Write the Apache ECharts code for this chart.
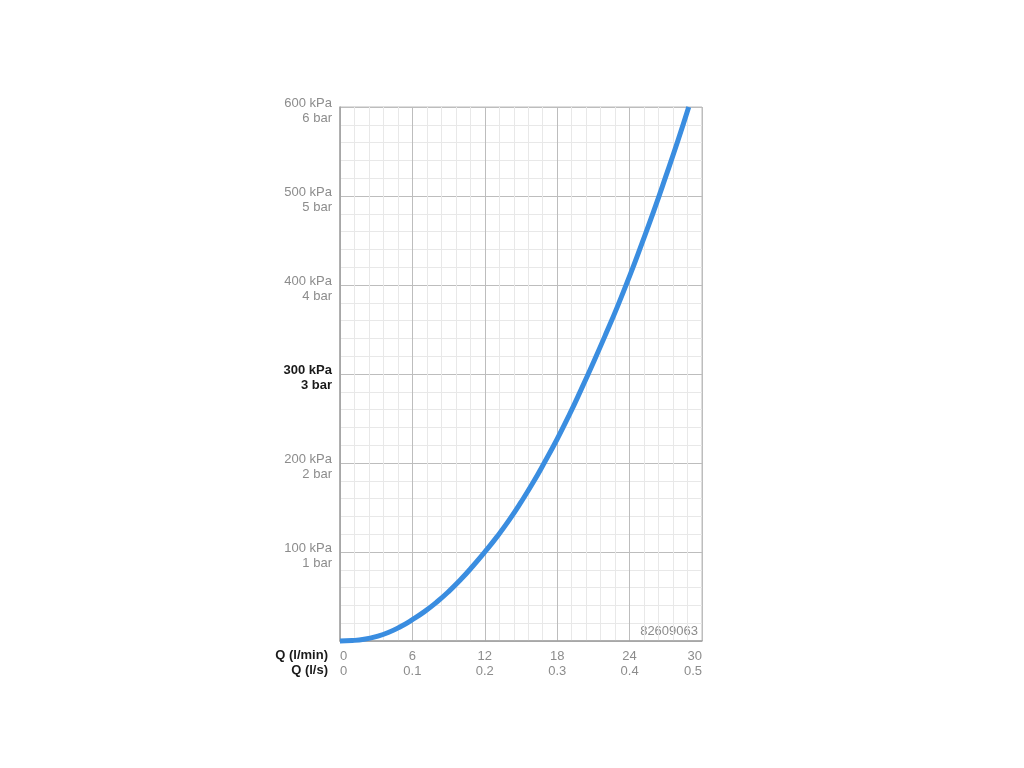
<!DOCTYPE html>
<html>
<head>
<meta charset="utf-8">
<script src="https://cdn.jsdelivr.net/npm/echarts@6/dist/echarts.min.js"></script>
<style>html,body{margin:0;padding:0;background:#fff}#c{width:1024px;height:768px}</style>
</head>
<body>
<div id="c"></div>
<script>
// Flow Q in l/min
const flowLpm = [0, 1, 2, 3, 4, 5, 6, 7, 8, 9, 10, 11, 12, 13, 14, 15, 16, 17, 18, 19, 20, 21, 22, 23, 24, 25, 26, 27, 28, 28.9];
// Pressure in kPa
const pressureKPa = [0, 0.5, 2, 5, 9.5, 16, 24, 33, 43.5, 55.5, 69, 84, 100, 117, 135.5, 156, 178, 202, 227, 254, 283, 313, 344, 376, 410, 446, 483, 522, 562, 600];
const yTicks = [0, 100, 200, 300, 400, 500, 600];
const xTicks = [0, 6, 12, 18, 24, 30];
const drawingNo = '82609063';

const chart = echarts.init(document.getElementById('c'));
const grey = '#8c8c8c';
const font = 'Liberation Sans, Arial, Helvetica, sans-serif';

chart.setOption({
  animation: false,
  backgroundColor: '#fff',
  grid: { left: 340, right: 322, top: 107, bottom: 127, show: true, borderColor: '#bdbdbd', borderWidth: 1 },
  xAxis: {
    type: 'value', min: 0, max: 30, interval: 6,
    axisLine: { show: true, onZero: false, lineStyle: { color: '#a0a0a0', width: 1.5 } },
    axisTick: { show: false },
    splitLine: { show: true, lineStyle: { color: '#bdbdbd', width: 1 } },
    minorTick: { show: false, splitNumber: 5 },
    minorSplitLine: { show: true, lineStyle: { color: '#e8e8e8', width: 1 } },
    axisLabel: {
      margin: 8,
      fontFamily: font, fontSize: 13, color: grey, lineHeight: 15,
      alignMinLabel: 'left', alignMaxLabel: 'right',
      formatter: function (v) {
        const ls = v === 0 ? '0' : (v / 60).toFixed(1);
        return v + '\n' + ls;
      }
    },
    name: '{b|Q (l/min)}\n{b|Q (l/s)}',
    nameLocation: 'start',
    nameGap: 12,
    nameTextStyle: {
      align: 'right', verticalAlign: 'middle', padding: [44, 0, 0, 0],
      rich: { b: { fontFamily: font, fontSize: 13, fontWeight: 'bold', color: '#1a1a1a', lineHeight: 15, align: 'right' } }
    }
  },
  yAxis: {
    type: 'value', min: 0, max: 600, interval: 100,
    axisLine: { show: true, lineStyle: { color: '#a0a0a0', width: 1.5 } },
    axisTick: { show: false },
    splitLine: { show: true, lineStyle: { color: '#bdbdbd', width: 1 } },
    minorTick: { show: false, splitNumber: 5 },
    minorSplitLine: { show: true, lineStyle: { color: '#e8e8e8', width: 1 } },
    axisLabel: {
      margin: 8,
      padding: [8, 0, 0, 0],
      fontFamily: font, fontSize: 13, color: grey, lineHeight: 15,
      formatter: function (v) {
        if (v === 0) return '';
        if (v === 300) return '{b|' + v + ' kPa}\n{b|' + (v / 100) + ' bar}';
        return v + ' kPa\n' + (v / 100) + ' bar';
      },
      rich: { b: { fontFamily: font, fontSize: 13, fontWeight: 'bold', color: '#1a1a1a', lineHeight: 15, align: 'right' } }
    }
  },
  graphic: [{
    type: 'text', right: 326, bottom: 130,
    style: { text: drawingNo, fontFamily: font, fontSize: 13, fill: grey }
  }],
  series: [{
    type: 'line',
    data: flowLpm.map((q, i) => [q, pressureKPa[i]]),
    smooth: 0.5,
    showSymbol: false,
    lineStyle: { color: '#3a8de0', width: 5 },
    clip: false
  }]
});
</script>
</body>
</html>
